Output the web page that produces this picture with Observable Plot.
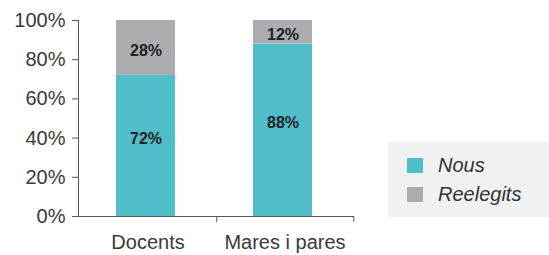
<!DOCTYPE html>
<html><head><meta charset="utf-8">
<script src="https://cdn.jsdelivr.net/npm/d3@7"></script>
<script src="https://cdn.jsdelivr.net/npm/@observablehq/plot@0.6"></script>
<style>
body{margin:0;background:#fff;}
#wrap{position:relative;width:549px;height:255px;font-family:"Liberation Sans",Arial,sans-serif;}
#legend{position:absolute;left:388px;top:142px;width:161px;height:75px;background:#f0f1f3;}
.item{position:absolute;left:19px;height:20px;display:flex;align-items:center;font-style:italic;font-size:20px;color:#333;}
.sw{width:16px;height:15px;margin-right:15px;}
</style></head><body><div id="wrap"></div>
<script>
const categories = ["Docents", "Mares i pares"];
const series = ["Nous", "Reelegits"];
const nous = [72, 88];
const reelegits = [28, 12];
const colors = ["#50bec9", "#abacb0"];
const yTicks = [0, 20, 40, 60, 80, 100];

const data = categories.flatMap((c, i) => [
  {cat: c, serie: series[0], value: nous[i]},
  {cat: c, serie: series[1], value: reelegits[i]}
]);

const W = 549, ML = 78, MR = 196;
const bw = (W - ML - MR) / categories.length;
const labelStyle = {fontWeight: "bold", fontSize: 16, fill: "#222", dx: -2, letterSpacing: "0.5px"};

const chart = Plot.plot({
  width: W, height: 255,
  marginLeft: ML, marginRight: MR, marginTop: 20, marginBottom: 39,
  style: {fontFamily: '"Liberation Sans", Arial, sans-serif', fontSize: "20px", color: "#3a3a3a", background: "transparent"},
  x: {domain: categories, padding: 0},
  y: {domain: [0, 100]},
  color: {domain: series, range: colors},
  marks: [
    Plot.barY(data, {x: "cat", y: "value", fill: "serie", insetLeft: 37, insetRight: 41}),
    Plot.text(data, Plot.stackY({x: "cat", y: "value", z: "serie", text: d => d.serie === series[0] ? d.value + "%" : "", dy: -7, ...labelStyle})),
    Plot.text(data, Plot.stackY({x: "cat", y: "value", z: "serie", text: d => d.serie === series[1] ? d.value + "%" : "", dy: 3, ...labelStyle})),
    Plot.frame({anchor: "left", stroke: "#555"}),
    Plot.frame({anchor: "bottom", stroke: "#555"}),
    Plot.axisY({ticks: yTicks, tickFormat: d => d + "%", tickSize: 6, tickPadding: 7, stroke: "#555", fill: "#3a3a3a", label: null}),
    Plot.axisX({tickSize: 0, tickPadding: 18, fill: "#3a3a3a", label: null}),
    Plot.axisX({tickSize: 6, fill: "none", stroke: "#555", dx: bw / 2, label: null})
  ]
});
const wrap = document.getElementById("wrap");
wrap.appendChild(chart);

const legend = document.createElement("div");
legend.id = "legend";
series.forEach((s, i) => {
  const it = document.createElement("div");
  it.className = "item";
  it.style.top = (13 + i * 29) + "px";
  const sw = document.createElement("span");
  sw.className = "sw";
  sw.style.background = colors[i];
  it.appendChild(sw);
  it.appendChild(document.createTextNode(s));
  legend.appendChild(it);
});
wrap.appendChild(legend);
</script></body></html>
